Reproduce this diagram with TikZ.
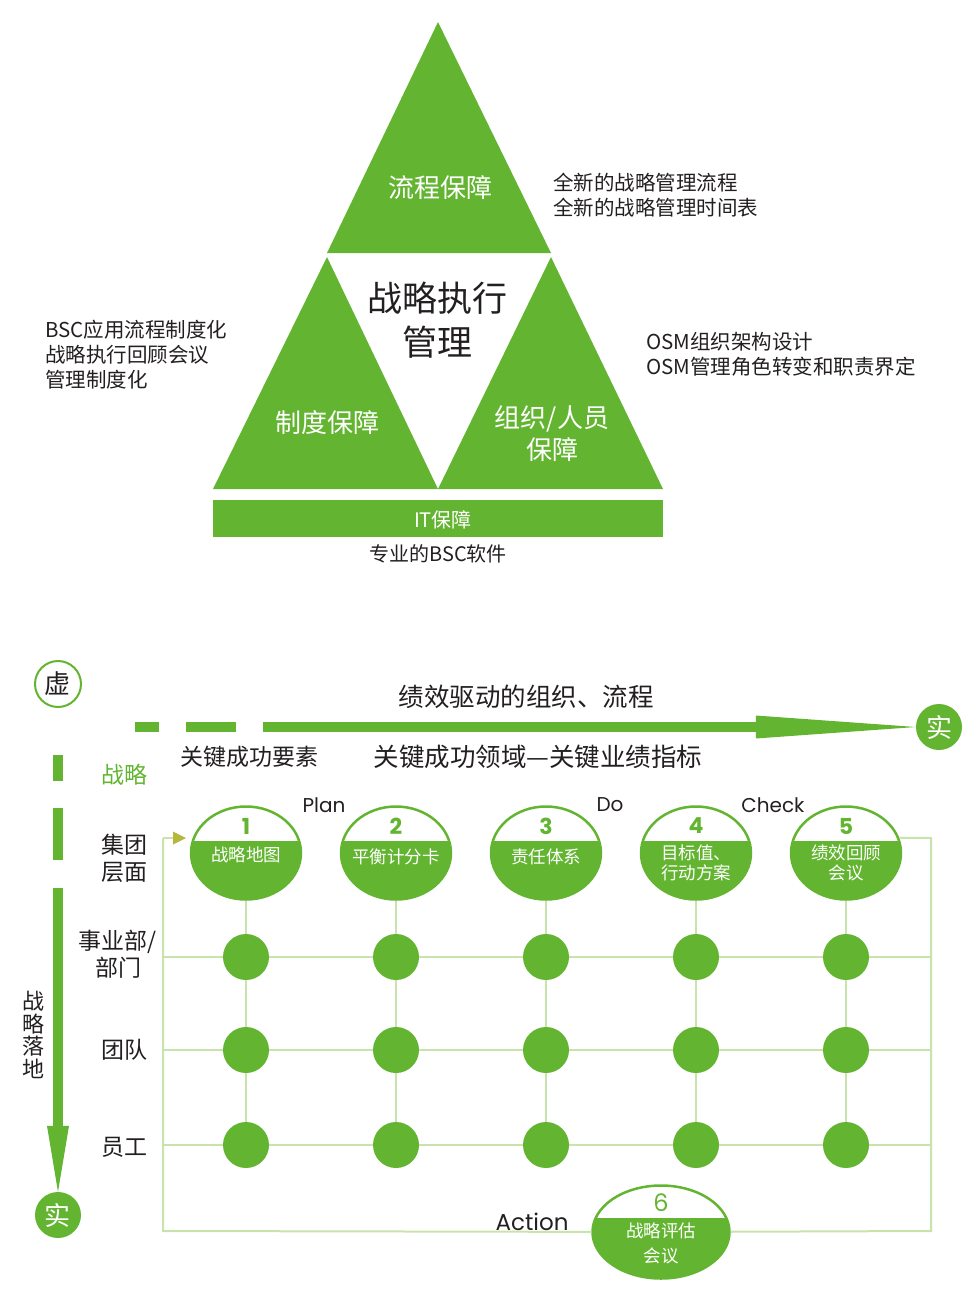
\documentclass[tikz,border=0pt]{standalone}
\usepackage{fontspec}
\setmainfont{Noto Sans CJK SC}
\newfontfamily\pdcafont{Poppins}
\usetikzlibrary{positioning,calc,shapes.geometric,arrows.meta}
\definecolor{bscgreen}{RGB}{99,181,49}
\definecolor{gridgreen}{RGB}{200,228,172}
\definecolor{tipolive}{RGB}{181,184,58}
\definecolor{inkgray}{RGB}{35,31,32}
\tikzset{
%Define standard arrow tip
>={Triangle[length=13pt,width=13pt,line width=0pt,color=tipolive]},
%Text styles for the upper figure
inner text/.style={text=white, inner sep=0pt, align=center, font=\fontsize{26}{32}\selectfont},
core text/.style={text=inkgray, inner sep=0pt, align=center, font=\fontsize{35}{44}\selectfont},
note/.style={text=inkgray, inner sep=0pt, anchor=west, align=left, font=\fontsize{20.5}{25}\selectfont},
%Styles for the lower figure
bar/.style={bscgreen, line width=10pt},
grid line/.style={gridgreen, line width=2pt},
level/.style={text=inkgray, inner sep=0pt, align=center, font=\fontsize{23}{27}\selectfont},
heading/.style={text=inkgray, inner sep=0pt, font=\fontsize{23}{28}\selectfont},
pdca/.style={text=inkgray, inner sep=0pt, font=\pdcafont\fontsize{20}{24}\selectfont},
hollow mark/.style={circle, draw=bscgreen, line width=2pt, fill=white, minimum size=46pt, inner sep=0pt, text=inkgray, font=\fontsize{26}{30}\selectfont},
solid mark/.style={circle, fill=bscgreen, minimum size=46pt, inner sep=0pt, text=white, font=\fontsize{26}{30}\selectfont},
dot/.style={circle, fill=bscgreen, minimum size=46pt, inner sep=0pt},
phase/.style={ellipse, draw=bscgreen, line width=2.5pt, fill=white, minimum width=110pt, minimum height=93pt, inner sep=0pt,
  path picture={\fill[bscgreen] (path picture bounding box.south west) rectangle ([yshift=#1]path picture bounding box.east);}},
phase/.default=12pt,
phase num/.style={text=bscgreen, inner sep=0pt, font=\pdcafont\bfseries\fontsize{22}{24}\selectfont},
phase text/.style={text=white, inner sep=0pt, align=center, font=\fontsize{17.5}{20}\selectfont},
}

\begin{document}
\begin{tikzpicture}[x=1pt,y=-1pt]
    \useasboundingbox (0,0) rectangle (980,1302);
    %%%%%%%%%%%%%%%%%%%%%%
    %Upper figure: the three triangles
    %%%%%%%%%%%%%%%%%%%%%%
    \fill[bscgreen] (438,22) -- (551,253) -- (327,253) -- cycle;
    \fill[bscgreen] (327,257) -- (438,489) -- (213,489) -- cycle;
    \fill[bscgreen] (551,257) -- (663,489) -- (438,489) -- cycle;
    %The IT bar
    \fill[bscgreen] (213,500) rectangle (663,537);

    \node[inner text] (process) at (440,188) {流程保障};
    \node[core text] (core) at (437,320) {战略执行\\管理};
    \node[inner text] (system) at (327,423) {制度保障};
    \node[inner text] (people) at (552,434) {组织/人员\\保障};
    \node[inner text, font=\fontsize{20}{24}\selectfont] (it) at (443,520) {IT保障};
    \node[text=inkgray, font=\fontsize{20}{24}\selectfont] (software) at (438,554) {专业的BSC软件};

    %The notes beside the triangles
    \node[note] (procnote) at (553,195.5) {全新的战略管理流程\\全新的战略管理时间表};
    \node[note] (sysnote) at (45,355) {BSC应用流程制度化\\战略执行回顾会议\\管理制度化};
    \node[note] (osmnote) at (646,354.5) {OSM组织架构设计\\OSM管理角色转变和职责界定};

    %%%%%%%%%%%%%%%%%%%%%%
    %Lower figure: from virtual to real
    %%%%%%%%%%%%%%%%%%%%%%
    \node[hollow mark] (xu) at (58,684) {虚};
    \node[solid mark] (shiright) at (939,727) {实};
    \node[solid mark] (shidown) at (58,1215) {实};

    \coordinate (hstart) at (135,727);
    \coordinate (vstart) at (58,755);
    \draw[bar, dash pattern=on 24pt off 27pt on 50pt off 27pt on 2000pt,
      -{Triangle[length=160pt,width=23pt,line width=0pt]}] (hstart) -- (shiright);
    \draw[bar, dash pattern=on 26pt off 27pt on 52pt off 28pt on 2000pt,
      -{Triangle[length=66pt,width=22pt,line width=0pt]}] (vstart) -- (shidown);

    \node[heading, font=\fontsize{25.5}{28}\selectfont] (drive) at (526,697) {绩效驱动的组织、流程};
    \node[heading] (ksf) at (249,757) {关键成功要素};
    \node[heading, font=\fontsize{25.5}{28}\selectfont] (kpi) at (538,757) {关键成功领域—关键业绩指标};

    %Levels on the left
    \node[level, text=bscgreen] (strategy) at (124,775) {战略};
    \node[level] (group) at (124,858) {集团\\层面};
    \node[level] (unit) at (118,954) {事业部/\\部门};
    \node[level] (team) at (124,1050) {团队};
    \node[level] (staff) at (124,1147) {员工};
    \node[level, font=\fontsize{22}{22.5}\selectfont] (landing) at (33,1035) {战\\略\\落\\地};

    %The phases and the grid of dots
    \foreach \x [count=\i] in {246,396,546,696,846}{
      \node[phase] (p\i) at (\x,853) {};
      \node[phase num] at ([yshift=27pt]p\i.center) {\i};
      \foreach \y [count=\j] in {957,1050,1145}
        \node[dot] (d\i\j) at (\x,\y) {};
    }
    \foreach \i/\t/\s in {1/战略地图/2, 2/平衡计分卡/4, 3/责任体系/4, 4/{目标值、\\行动方案}/10, 5/{绩效回顾\\会议}/10}
      \node[phase text] at ([yshift=-\s pt]p\i.center) {\t};

    \node[phase=14pt, minimum width=137pt] (p6) at (661,1232) {};
    \node[phase num, font=\pdcafont\fontsize{24}{26}\selectfont] at ([yshift=29pt]p6.center) {6};
    \node[phase text, font=\fontsize{17.5}{25}\selectfont] at ([yshift=-11.5pt]p6.center) {战略评估\\会议};

    \node[pdca] (plan) at (324,805) {Plan};
    \node[pdca] (do) at (610,805) {Do};
    \node[pdca] (check) at (773,805) {Check};
    \node[pdca, font=\pdcafont\fontsize{23}{26}\selectfont] (action) at (532,1222) {Action};

    %Grid lines
    \foreach \y [count=\j] in {957,1050,1145}{
      \coordinate (l\j) at (163,\y);
      \coordinate (r\j) at (931,\y);
      \draw[grid line] (l\j) -- (d1\j) -- (d2\j) -- (d3\j) -- (d4\j) -- (d5\j) -- (r\j);
    }
    \foreach \i in {1,...,5}
      \draw[grid line] (p\i) -- (d\i1) -- (d\i2) -- (d\i3);

    %The frame round the grid
    \coordinate (ftl) at (163,838);
    \coordinate (fbl) at (163,1231);
    \coordinate (fbr) at (931,1231);
    \coordinate (ftr) at (931,838);
    \coordinate (entry) at (186,838);
    \draw[grid line] (p5.16) -- (ftr) -- (fbr) -- (p6) -- (fbl) -- (ftl);
    \draw[grid line, ->] (ftl) -- (entry);
\end{tikzpicture}
\end{document}
